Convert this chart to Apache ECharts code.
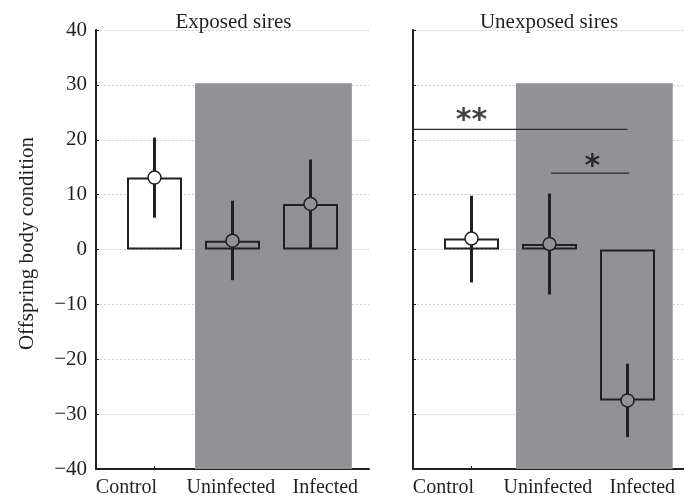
<!DOCTYPE html>
<html>
<head>
<meta charset="utf-8">
<script src="https://cdn.jsdelivr.net/npm/echarts@6/dist/echarts.min.js"></script>
<style>html,body{margin:0;padding:0;background:#fff}#c{width:684px;height:495px}</style>
</head>
<body>
<div id="c"></div>
<script>
const categories = ['Control', 'Uninfected', 'Infected'];
const panelTitles = ['Exposed sires', 'Unexposed sires'];
const exposedMean = [13.1, 1.6, 8.3];
const exposedLow = [5.8, -5.6, 0.2];
const exposedHigh = [20.4, 8.9, 16.4];
const unexposedMean = [2.0, 1.0, -27.5];
const unexposedLow = [-6.0, -8.2, -34.2];
const unexposedHigh = [9.8, 10.2, -20.8];
const yTicks = [-40, -30, -20, -10, 0, 10, 20, 30, 40];
const sigAcross = 21.9;   // ** : exposed Infected vs unexposed Infected
const sigWithin = 13.9;   // *  : unexposed Uninfected vs Infected

const INK = '#231f20';
const GRAY = '#929296';
const FONT = 'Liberation Serif';
// label anchor positions (the original's labels are not centred on their ticks)
const LABEL_POS = [0.64, 1.98, 3.19];

function xAxisCfg(grid) {
  return {
    type: 'value', gridIndex: grid, min: 0.25, max: 3.75,
    axisLine: { onZero: false, lineStyle: { color: INK, width: 2 } },
    axisTick: { inside: true, length: 3, customValues: [1, 2, 3], lineStyle: { color: INK, width: 1 } },
    axisLabel: { customValues: LABEL_POS, margin: 9, fontFamily: FONT, fontSize: 20, color: INK,
      formatter: v => {
        let best = 0;
        LABEL_POS.forEach((p, i) => { if (Math.abs(p - v) < Math.abs(LABEL_POS[best] - v)) best = i; });
        return categories[best];
      } },
    splitLine: { show: false }
  };
}
function yAxisCfg(grid, labels) {
  const c = {
    type: 'value', gridIndex: grid, min: yTicks[0], max: yTicks[yTicks.length - 1], interval: 10,
    axisLine: { show: true, onZero: false, lineStyle: { color: INK, width: 2 } },
    axisTick: { show: true, inside: true, length: 3, lineStyle: { color: INK, width: 1 } },
    axisLabel: { show: labels, margin: 9, fontFamily: FONT, fontSize: 21, color: INK,
      formatter: v => String(v).replace('-', '\u2212') },
    splitLine: { show: true, lineStyle: { type: [2, 2], color: '#d0d0d0', width: 1 } }
  };
  if (labels) {
    c.name = 'Offspring body condition';
    c.nameLocation = 'middle';
    c.nameGap = 58;
    c.nameTextStyle = { fontFamily: FONT, fontSize: 21, color: INK, padding: [0, 0, 0, 12] };
  }
  return c;
}

function panelSeries(g, mean, low, high, shade) {
  return [
    {
      type: 'bar', xAxisIndex: g, yAxisIndex: g, barWidth: 55, z: 3,
      data: mean.map((m, i) => ({ value: [i + 1, m],
        itemStyle: { color: i === 0 ? '#ffffff' : 'rgba(0,0,0,0)', borderColor: INK, borderWidth: 2 } })),
      markArea: { silent: true, z: 1, itemStyle: { color: GRAY },
        data: [[{ xAxis: shade[0], yAxis: 30.3 }, { xAxis: shade[1], yAxis: -40 }]] }
    },
    {
      type: 'custom', xAxisIndex: g, yAxisIndex: g, z: 4,
      data: low.map((l, i) => [i + 1, l, high[i]]),
      encode: { x: 0, y: [1, 2] },
      renderItem: (params, api) => {
        const x = api.value(0);
        const a = api.coord([x, api.value(1)]);
        const b = api.coord([x, api.value(2)]);
        return { type: 'line', shape: { x1: a[0], y1: a[1], x2: b[0], y2: b[1] },
          style: { stroke: INK, lineWidth: 3 } };
      }
    },
    {
      type: 'scatter', xAxisIndex: g, yAxisIndex: g, z: 5, symbolSize: 13,
      data: mean.map((m, i) => ({ value: [i + 1, m],
        itemStyle: { color: i === 0 ? '#ffffff' : GRAY, borderColor: INK, borderWidth: 1.5, opacity: 1 } }))
    }
  ];
}

const option = {
  animation: false,
  backgroundColor: '#ffffff',
  title: [
    { text: panelTitles[0], left: 228.5, top: 7, textAlign: 'center',
      textStyle: { fontFamily: FONT, fontSize: 21, fontWeight: 'normal', color: INK } },
    { text: panelTitles[1], left: 544, top: 7, textAlign: 'center',
      textStyle: { fontFamily: FONT, fontSize: 21, fontWeight: 'normal', color: INK } }
  ],
  grid: [
    { left: 96, top: 30, width: 273, height: 439, containLabel: false, outerBoundsMode: 'none' },
    { left: 413, top: 30, width: 273, height: 439, containLabel: false, outerBoundsMode: 'none' }
  ],
  xAxis: [xAxisCfg(0), xAxisCfg(1)],
  yAxis: [yAxisCfg(0, true), yAxisCfg(1, false)],
  series: [
    ...panelSeries(0, exposedMean, exposedLow, exposedHigh, [1.52, 3.53]),
    ...panelSeries(1, unexposedMean, unexposedLow, unexposedHigh, [1.57, 3.58]),
    {
      type: 'line', xAxisIndex: 1, yAxisIndex: 1, clip: false, z: 6, symbol: 'none',
      lineStyle: { color: '#2a2a2a', width: 1.2 },
      data: [[-1.06, sigAcross], [3, sigAcross]]
    },
    {
      type: 'line', xAxisIndex: 1, yAxisIndex: 1, clip: false, z: 6, symbol: 'none',
      lineStyle: { color: '#2a2a2a', width: 1.2 },
      data: [[2.02, sigWithin], [3.02, sigWithin]]
    },
    {
      type: 'scatter', xAxisIndex: 1, yAxisIndex: 1, z: 7, symbolSize: 1,
      itemStyle: { color: 'rgba(0,0,0,0)' },
      label: { show: true, position: 'inside', offset: [0, -8], fontFamily: 'DejaVu Sans', fontWeight: 'bold',
        fontSize: 30, color: '#111', formatter: p => p.data.text },
      data: [
        { value: [1, sigAcross], text: '**' },
        { value: [2.55, sigWithin], text: '*', label: { offset: [0, -6] } }
      ]
    }
  ]
};

const chart = echarts.init(document.getElementById('c'), null, { renderer: 'canvas' });
chart.setOption(option);
</script>
</body>
</html>
